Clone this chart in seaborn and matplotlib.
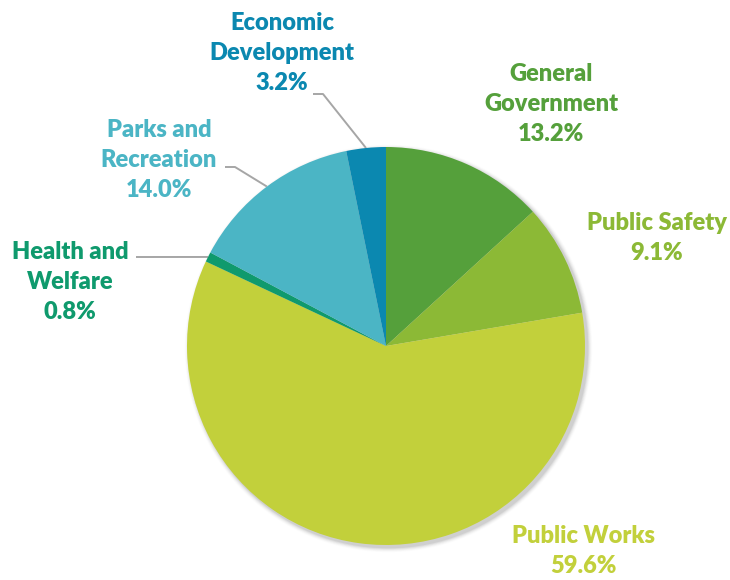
import numpy as np
import matplotlib
matplotlib.use("Agg")
import matplotlib.pyplot as plt
from matplotlib.patches import Circle
import seaborn as sns

# Expenditure shares by function (percent)
categories = ["General\nGovernment", "Public Safety", "Public Works",
              "Health and\nWelfare", "Parks and\nRecreation", "Economic\nDevelopment"]
shares = [13.2, 9.1, 59.6, 0.8, 14.0, 3.2]
colors = ["#55A03B", "#8CB936", "#C2D03B", "#0F9A6D", "#4BB5C5", "#0B88B0"]

sns.set_theme(style="white")
plt.rcParams["font.family"] = ["Lato", "DejaVu Sans"]

W, H = 730, 580
fig = plt.figure(figsize=(W / 100, H / 100), dpi=100)
ax = fig.add_axes([0, 0, 1, 1])

cx, cy, r = 386, H - 346, 199

wedges, _ = ax.pie(shares, colors=colors, startangle=90, counterclock=False,
                   center=(cx, cy), radius=r, normalize=True,
                   wedgeprops=dict(linewidth=0, antialiased=True))
for w in wedges:
    w.set_zorder(2)

# pixel-sized canvas so the layout maps 1:1
ax.set_xlim(0, W)
ax.set_ylim(0, H)
ax.set_aspect("equal")
ax.axis("off")

# soft drop shadow under the pie
for i, a in enumerate(np.linspace(0.05, 0.012, 6)):
    ax.add_patch(Circle((cx + 2.5, cy - 2.5), r + 0.8 * (i + 1), color="#000000",
                        alpha=a, lw=0, zorder=0))

# label positions (x, y of the text block centre) and leader-line start
label_pos = {
    0: (551, 104, None),
    1: (657, 238, None),
    2: (583, 551, None),
    3: (70, 282, (136, 257)),
    4: (159, 160, (225, 167)),
    5: (282, 53, (313, 94)),
}

for i, (lab, val, col) in enumerate(zip(categories, shares, colors)):
    x, y, lead = label_pos[i]
    ax.text(x, H - y, f"{lab}\n{val:.1f}%", ha="center", va="center",
            fontsize=17, fontweight=800, color=col, linespacing=1.42, zorder=5)
    if lead is not None:
        w = wedges[i]
        mid = np.deg2rad((w.theta1 + w.theta2) / 2)
        ex, ey = cx + r * np.cos(mid), cy + r * np.sin(mid)
        sx, sy = lead[0], H - lead[1]
        kx = sx + 10
        ax.plot([sx, kx, ex], [sy, sy, ey], color="#A6A6A6", lw=1.4,
                solid_capstyle="butt", zorder=1)

fig.savefig("out.png", dpi=100, facecolor="white")
